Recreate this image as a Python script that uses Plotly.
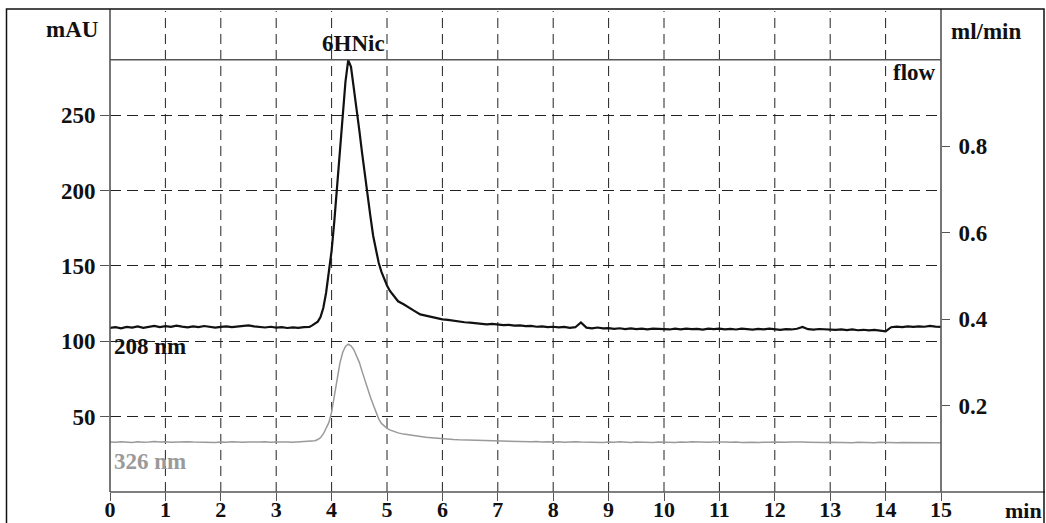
import plotly.graph_objects as go

# Retention time axis (min): coarse on the baselines, finer across the peak
time_min = (
    [round(i * 0.1, 2) for i in range(0, 37)]            # 0.0 .. 3.6
    + [round(3.65 + i * 0.05, 2) for i in range(0, 32)]  # 3.65 .. 5.2
    + [round(5.3 + i * 0.1, 2) for i in range(0, 98)]    # 5.3 .. 15.0
)

# Absorbance at 208 nm (mAU)
abs_208 = [
    108.8, 109.3, 108.6, 109.5, 109.0, 109.8, 108.9, 109.6, 110.2, 109.4,
    110.0, 109.5, 110.3, 109.7, 109.2, 109.9, 109.4, 110.1, 109.6, 109.0,
    109.5, 109.8, 109.3, 109.7, 110.2, 110.5, 109.9, 109.4, 109.1, 109.6,
    109.0, 109.3, 108.8, 109.2, 108.9, 109.3, 109.5,
    # 3.65 .. 5.2
    110.5, 111.5, 113.0, 116.0, 122.0, 132.0, 145.0, 160.0, 180.0, 202.0,
    225.0, 247.0, 272.0, 286.5, 282.0, 268.0, 255.0, 240.0, 225.0, 210.0,
    198.0, 183.0, 170.0, 160.0, 152.0, 146.0, 141.0, 137.0, 133.5, 131.0,
    128.5, 126.5,
    # 5.3 .. 15.0
    124.5, 122.0, 120.0, 117.8, 117.0, 116.0, 115.5, 114.5, 114.2, 113.5,
    113.2, 112.6, 112.4, 112.0, 111.8, 111.2, 111.5, 110.9, 110.7, 110.9,
    110.3, 110.5, 110.0, 110.2, 109.6, 109.9, 109.4, 109.6, 109.2, 109.5,
    108.9, 109.3, 112.5, 109.0, 108.6, 109.1, 108.5, 108.7, 108.2, 108.6,
    108.1, 108.5, 108.0, 108.4, 107.9, 108.3, 108.0, 108.2, 107.8, 108.3,
    107.9, 108.4, 108.0, 108.2, 107.7, 108.3, 108.0, 108.4, 107.9, 108.2,
    107.8, 108.3, 108.1, 107.7, 108.2, 107.9, 108.4, 108.1, 107.6, 108.0,
    107.8, 108.3, 109.5, 108.0, 107.7, 108.1, 107.8, 108.0, 107.5, 107.9,
    107.4, 107.8, 107.3, 107.6, 107.2, 107.5, 107.2, 106.5, 109.3, 109.7,
    109.4, 109.8, 109.5, 109.9, 109.6, 110.2, 109.7, 109.5,
]

# Absorbance at 326 nm (mAU)
abs_326 = [
    33.2, 33.0, 33.4, 33.1, 32.9, 33.3, 33.0, 33.2, 33.5, 33.1,
    33.4, 33.0, 33.2, 32.9, 33.3, 33.1, 33.0, 33.3, 33.1, 32.8,
    33.2, 33.0, 33.3, 33.1, 33.0, 33.2, 32.9, 33.1, 33.3, 33.0,
    33.2, 32.9, 33.1, 33.0, 33.2, 33.3, 33.4,
    # 3.65 .. 5.2
    33.6, 34.0, 34.8, 36.0, 38.5, 42.0, 46.0, 53.0, 63.0, 75.5,
    85.5, 92.5, 96.5, 98.0, 97.0, 94.5, 90.0, 86.0, 80.0, 74.0,
    68.5, 63.0, 58.0, 52.5, 48.5, 45.5, 43.5, 42.2, 41.2, 40.4,
    39.7, 39.2,
    # 5.3 .. 15.0
    38.4, 37.8, 37.2, 36.8, 36.3, 36.0, 35.6, 35.2, 35.0, 34.8,
    34.6, 34.5, 34.3, 34.2, 34.0, 34.1, 33.9, 33.8, 33.9, 33.6,
    33.7, 33.5, 33.6, 33.3, 33.5, 33.2, 33.4, 33.1, 33.3, 33.0,
    33.2, 33.4, 33.1, 33.0, 33.3, 33.1, 32.9, 33.2, 33.0, 33.3,
    33.1, 32.9, 33.2, 33.0, 33.1, 32.8, 33.2, 33.0, 33.1, 32.9,
    33.2, 33.0, 33.3, 33.1, 32.9, 33.0, 33.2, 32.9, 33.1, 33.0,
    33.2, 32.8, 33.1, 33.0, 32.9, 33.2, 33.0, 33.1, 32.8, 33.0,
    33.2, 32.9, 33.1, 33.0, 32.8, 33.1, 32.9, 33.0, 32.8, 33.1,
    32.9, 32.7, 33.0, 32.8, 32.9, 32.7, 33.0, 32.8, 32.9, 32.7,
    32.9, 32.8, 32.6, 32.9, 32.7, 32.8, 32.6, 32.7,
]

# Pump flow (ml/min)
flow_time = [0, 15]
flow_rate = [1.0, 1.0]

x_ticks = list(range(0, 16))
mau_ticks = [50, 100, 150, 200, 250]
flow_ticks = [0.2, 0.4, 0.6, 0.8]

# Plot-area pixel box, used to place header texts and frame lines
L, R, T, B = 110, 941, 59, 492
W, H = 1046, 523


def px(x):
    return (x - L) / (R - L)


def py(y):
    return (B - y) / (B - T)


SERIF = "Liberation Serif, Times New Roman, serif"
AXIS_GREY = "#555555"
FS = 23

fig = go.Figure()
fig.add_trace(go.Scatter(x=time_min, y=abs_326, mode="lines",
                         line=dict(color="#9a9a9a", width=1.5), name="326 nm"))
fig.add_trace(go.Scatter(x=time_min, y=abs_208, mode="lines",
                         line=dict(color="#111111", width=2.2), name="208 nm"))
fig.add_trace(go.Scatter(x=flow_time, y=flow_rate, mode="lines", yaxis="y2",
                         line=dict(color=AXIS_GREY, width=1.5), name="flow"))

tickfont = dict(family=SERIF, size=FS, color="#111111", weight="bold")

fig.update_layout(
    width=W, height=H,
    margin=dict(l=L, r=W - R, t=T, b=H - B, pad=0, autoexpand=False),
    paper_bgcolor="white", plot_bgcolor="white",
    showlegend=False,
    xaxis=dict(
        range=[0, 15], tickvals=x_ticks, ticks="outside", ticklen=8,
        tickcolor=AXIS_GREY, tickwidth=1.2,
        tickfont=dict(family=SERIF, size=22, color="#111111", weight="bold"),
        showgrid=False, zeroline=False, showline=False, automargin=False,
        ticklabelstandoff=-10,
    ),
    yaxis=dict(
        range=[0, 287.2], tickvals=mau_ticks, ticks="outside", ticklen=9,
        tickcolor=AXIS_GREY, tickwidth=1.2, tickfont=tickfont,
        showgrid=True, gridcolor="#222222", gridwidth=1, griddash="11px,6px",
        zeroline=False, showline=False, ticklabelstandoff=0, automargin=False,
    ),
    yaxis2=dict(
        range=[0, 1.002], overlaying="y", side="right",
        tickvals=flow_ticks, tickformat=".1f", ticks="outside", ticklen=8,
        tickcolor=AXIS_GREY, tickwidth=1.2, tickfont=tickfont,
        showgrid=False, zeroline=False, showline=False, ticklabelstandoff=4,
        automargin=False,
    ),
)

shapes = []
# vertical dashed grid lines running up into the header band
for t in range(1, 15):
    shapes.append(dict(type="line", xref="x", yref="paper", x0=t, x1=t,
                       y0=0, y1=py(11), layer="below",
                       line=dict(color="#222222", width=1, dash="10px,6px")))
# left and right axis lines reaching the top frame
for xx in (0, 1):
    shapes.append(dict(type="line", xref="paper", yref="paper", x0=xx, x1=xx,
                       y0=0, y1=py(9), line=dict(color=AXIS_GREY, width=1.6)))
# time axis line, extended to the right frame
shapes.append(dict(type="line", xref="paper", yref="paper", x0=0, x1=px(1045),
                   y0=0, y1=0, line=dict(color=AXIS_GREY, width=1.6)))
# outer frame
shapes.append(dict(type="rect", xref="paper", yref="paper",
                   x0=px(6.5), x1=px(1044), y0=py(H + 5), y1=py(9),
                   line=dict(color="#111111", width=1.5)))
fig.update_layout(shapes=shapes)

lab = dict(family=SERIF, size=FS, color="#111111", weight="bold")
ann = [
    dict(text="mAU", x=px(101), y=py(30), xanchor="right", yanchor="middle"),
    dict(text="6HNic", x=px(353), y=py(43), xanchor="center", yanchor="middle"),
    dict(text="ml/min", x=px(949), y=py(31), xanchor="left", yanchor="middle"),
    dict(text="flow", x=px(938), y=py(72), xanchor="right", yanchor="middle"),
    dict(text="208 nm", x=px(112), y=py(346), xanchor="left", yanchor="middle"),
    dict(text="326 nm", x=px(112), y=py(461), xanchor="left", yanchor="middle",
         font=dict(family=SERIF, size=FS, color="#9a9a9a", weight="bold")),
    dict(text="min", x=px(1003), y=py(510), xanchor="left", yanchor="middle",
         font=dict(family=SERIF, size=22, color="#111111", weight="bold")),
]
for a in ann:
    a.setdefault("font", lab)
    fig.add_annotation(xref="paper", yref="paper", showarrow=False, **a)

fig.write_html("out.html")
